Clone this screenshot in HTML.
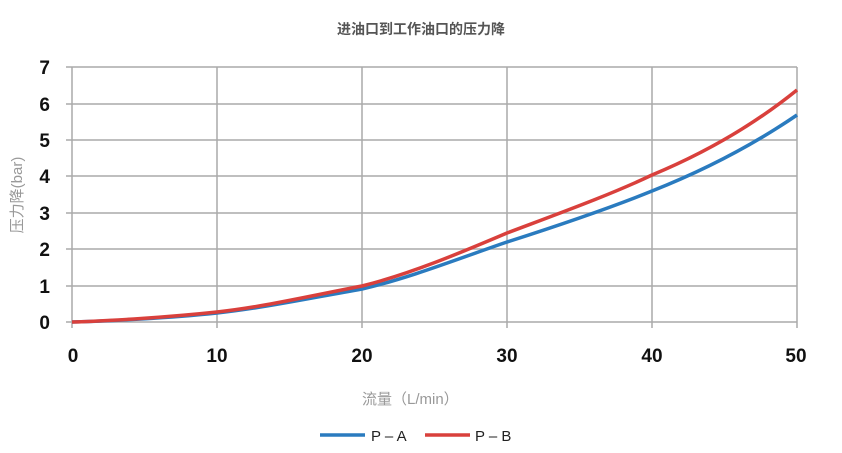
<!DOCTYPE html>
<html><head><meta charset="utf-8"><style>
html,body{margin:0;padding:0;background:#fff;width:842px;height:453px;overflow:hidden}
</style></head><body>
<svg width="842" height="453" xmlns="http://www.w3.org/2000/svg">
<text x="421" y="34" text-anchor="middle" font-family="Liberation Sans, Noto Sans CJK SC, sans-serif" font-size="14" font-weight="bold" fill="#555">进油口到工作油口的压力降</text>
<g stroke="#aaa" stroke-width="1.5">
<line x1="66" y1="67" x2="797" y2="67"/>
<line x1="66" y1="104" x2="797" y2="104"/>
<line x1="66" y1="140" x2="797" y2="140"/>
<line x1="66" y1="176" x2="797" y2="176"/>
<line x1="66" y1="213" x2="797" y2="213"/>
<line x1="66" y1="249" x2="797" y2="249"/>
<line x1="66" y1="286" x2="797" y2="286"/>
<line x1="66" y1="322" x2="797" y2="322"/>
<line x1="72" y1="67" x2="72" y2="328"/>
<line x1="217" y1="67" x2="217" y2="328"/>
<line x1="362" y1="67" x2="362" y2="328"/>
<line x1="507" y1="67" x2="507" y2="328"/>
<line x1="652" y1="67" x2="652" y2="328"/>
<line x1="797" y1="67" x2="797" y2="328"/>
</g>
<g font-family="Liberation Sans, sans-serif" font-size="19" font-weight="bold" fill="#111" text-anchor="end">
<text x="50" y="74">7</text><text x="50" y="111">6</text><text x="50" y="147">5</text><text x="50" y="183">4</text>
<text x="50" y="220">3</text><text x="50" y="256">2</text><text x="50" y="293">1</text><text x="50" y="329">0</text>
</g>
<g font-family="Liberation Sans, sans-serif" font-size="19" font-weight="bold" fill="#111" text-anchor="middle">
<text x="73" y="362">0</text><text x="217" y="362">10</text><text x="362" y="362">20</text>
<text x="507" y="362">30</text><text x="652" y="362">40</text><text x="796" y="362">50</text>
</g>
<text transform="translate(22,195) rotate(-90)" text-anchor="middle" font-family="Liberation Sans, Noto Sans CJK SC, sans-serif" font-size="15" fill="#999">压力降(bar)</text>
<text x="362" y="404" font-family="Liberation Sans, Noto Sans CJK SC, sans-serif" font-size="15" fill="#999">流量（L/min）</text>
<polyline fill="none" stroke="#2a7bbf" stroke-width="3.5" stroke-linejoin="round" points="72,322 101,321 130,318 159,315 188,311 217,313 246,307 275,302 304,292 333,280 362,289 391,276 420,263 449,250 478,239 507,242 536,230 565,218 594,206 623,193 652,191 681,176 710,160 739,143 768,124 797,115" style="display:none"/>
<path fill="none" stroke="#2a7bbf" stroke-width="3.5" d="M72,322 C110,321 170,318 217,313 C262,308 300,300 362,289 C410,278 460,258 507,242 C560,225 610,208 652,191 C700,172 750,147 797,115"/>
<path fill="none" stroke="#d9403c" stroke-width="3.5" d="M72,322 C110,321 170,317 217,312 C262,307 300,298 362,286 C410,274 460,253 507,233 C560,213 610,195 652,175 C700,155 750,128 797,90"/>
<line x1="320" y1="435" x2="365" y2="435" stroke="#2a7bbf" stroke-width="3.5"/>
<text x="371" y="441" font-family="Liberation Sans, sans-serif" font-size="15" fill="#222">P – A</text>
<line x1="425" y1="435" x2="470" y2="435" stroke="#d9403c" stroke-width="3.5"/>
<text x="475" y="441" font-family="Liberation Sans, sans-serif" font-size="15" fill="#222">P – B</text>
</svg>
</body></html>
